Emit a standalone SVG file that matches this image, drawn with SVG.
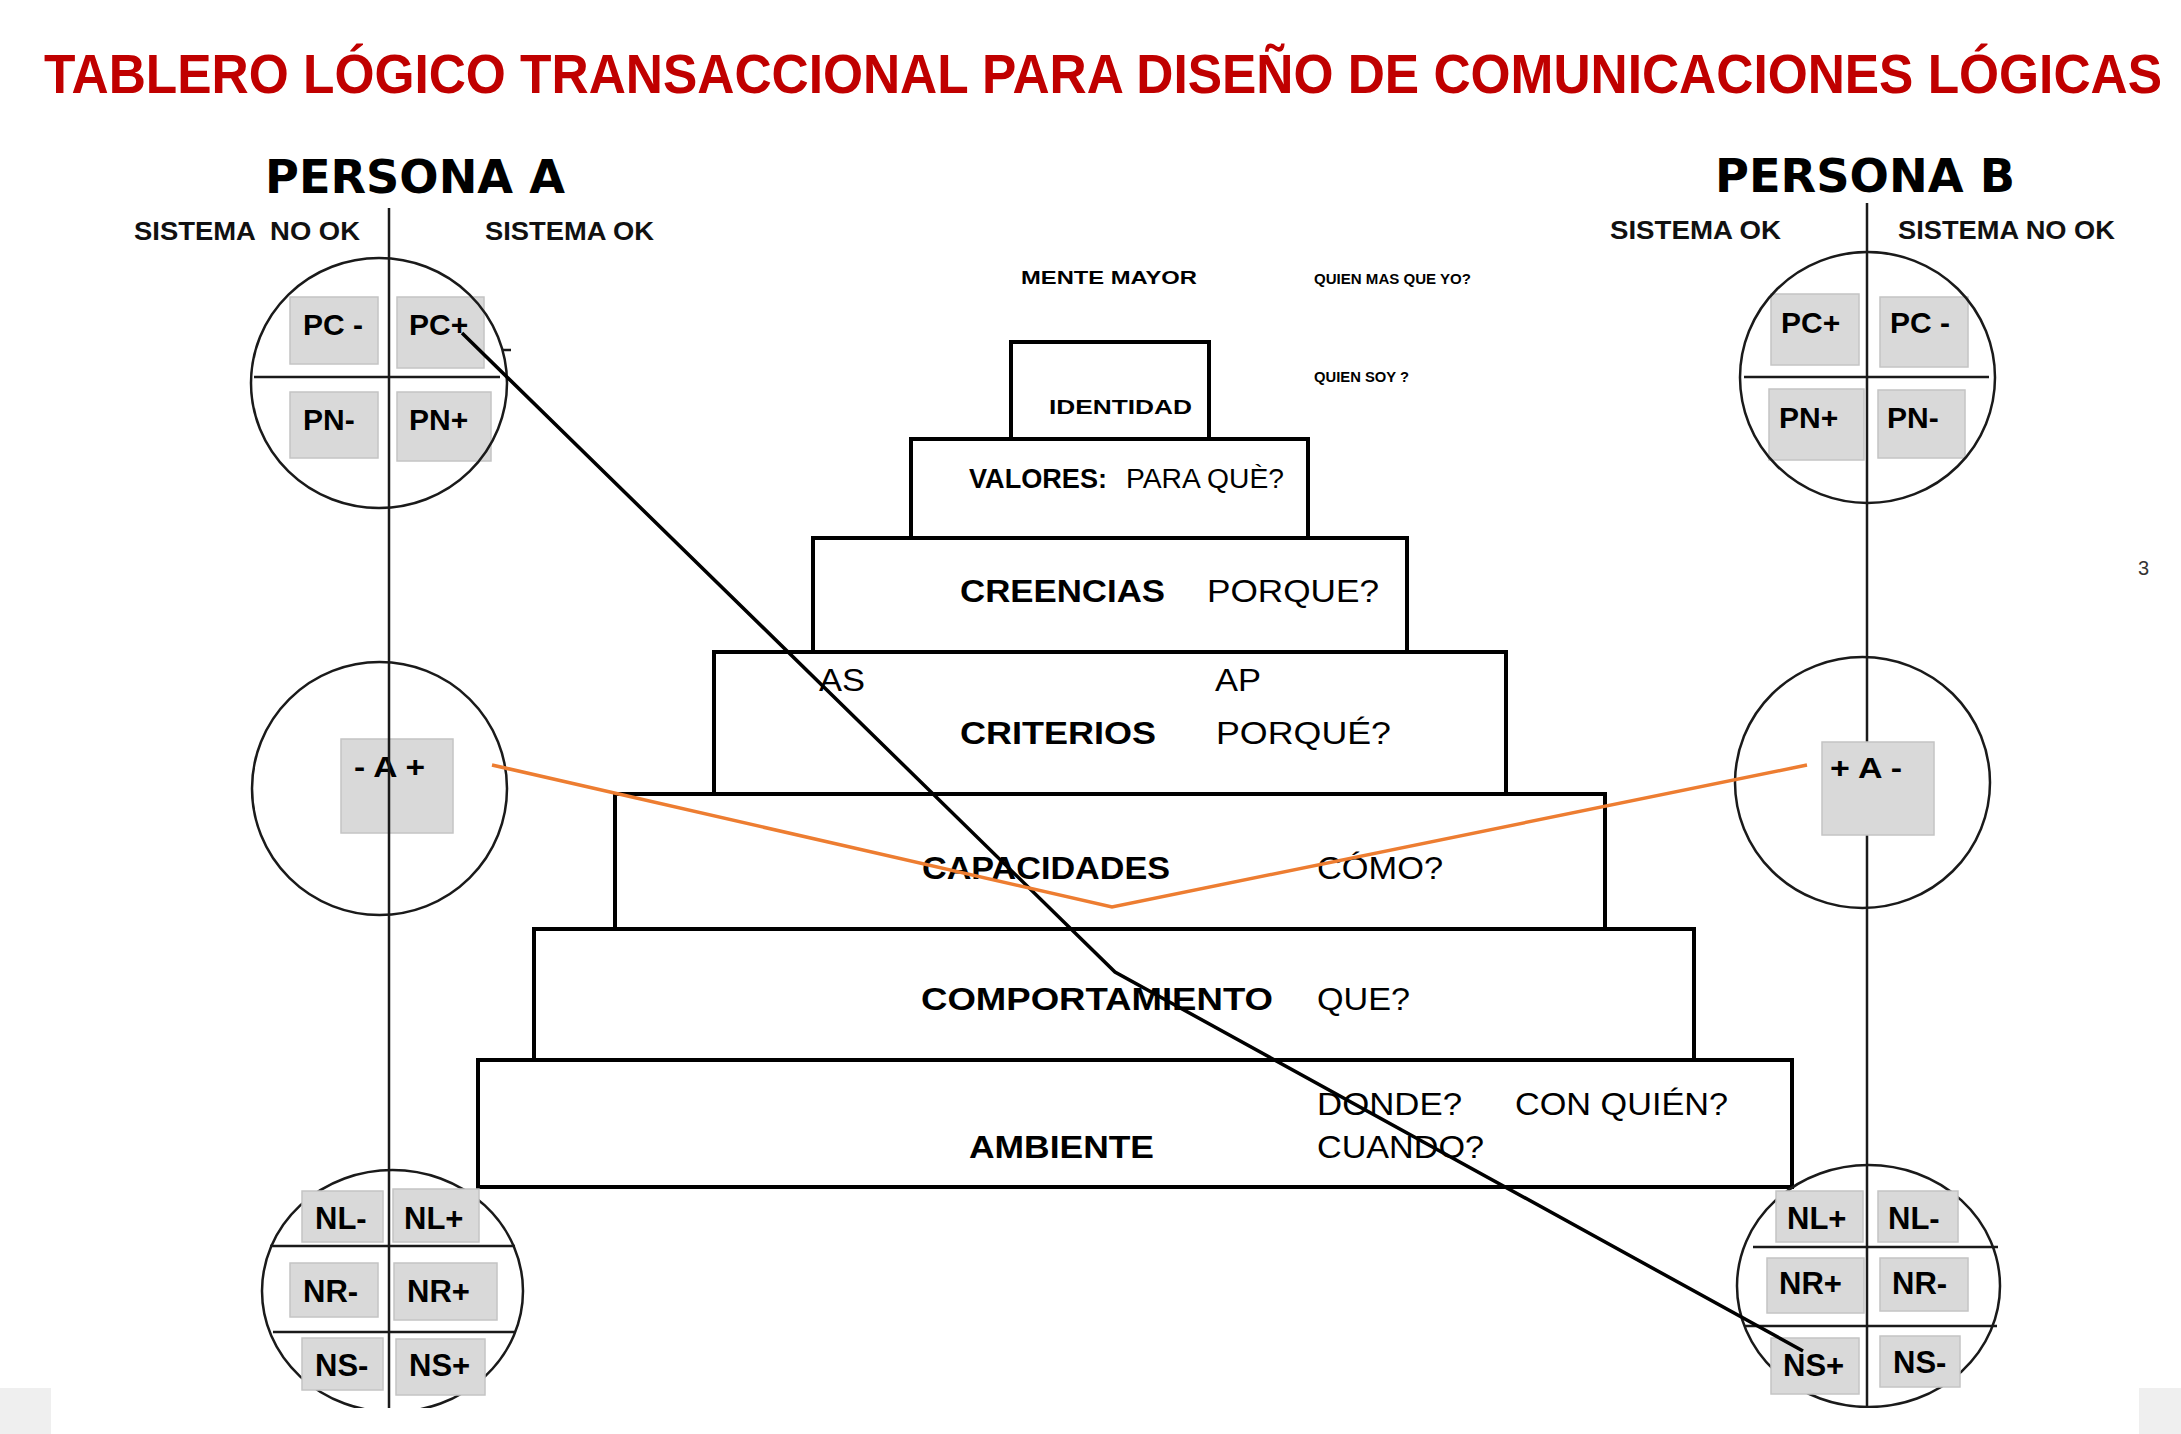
<svg xmlns="http://www.w3.org/2000/svg" width="2181" height="1434" viewBox="0 0 2181 1434">
<style>
.title{font-family:"Liberation Sans",Arial,sans-serif;font-weight:bold;font-size:49px;fill:#C00000}
.persona{font-family:"DejaVu Sans",Verdana,sans-serif;font-weight:bold;font-size:46px;fill:#000}
.sis{font-family:"Liberation Sans",Arial,sans-serif;font-weight:bold;font-size:26px;fill:#111}
.lbl{font-family:"Liberation Sans",Arial,sans-serif;font-weight:bold;font-size:30px;fill:#000}
.lblb{font-family:"Liberation Sans",Arial,sans-serif;font-weight:bold;font-size:31px;fill:#000}
.box{fill:#D9D9D9;stroke:#C4C4C4;stroke-width:1.5}
.ring{fill:none;stroke:#1a1a1a;stroke-width:2.5}
.axis{stroke:#1a1a1a;stroke-width:2.5;fill:none}
.lvl{fill:#fff;stroke:#000;stroke-width:4}
.pb{font-family:"Liberation Sans",Arial,sans-serif;font-weight:bold;font-size:32px;fill:#000}
.pr{font-family:"Liberation Sans",Arial,sans-serif;font-size:32px;fill:#000}
.small{font-family:"Liberation Sans",Arial,sans-serif;font-weight:bold;fill:#000}
</style>
<defs>
<clipPath id="clip"><rect x="0" y="0" width="2181" height="1408"/></clipPath>
</defs>
<rect x="0" y="0" width="2181" height="1434" fill="#fff"/>
<text class="title" transform="matrix(1 0 0 1.13 0 0)" x="44" y="82.3" textLength="2118" lengthAdjust="spacingAndGlyphs">TABLERO LÓGICO TRANSACCIONAL PARA DISEÑO DE COMUNICACIONES LÓGICAS</text>

<g id="pyramid">
<g id="ambiente"><rect class="lvl" x="478" y="1060" width="1314" height="127"/>
<text class="pb" x="969" y="1158" textLength="185" lengthAdjust="spacingAndGlyphs">AMBIENTE</text>
<text class="pr" x="1317" y="1115" textLength="145" lengthAdjust="spacingAndGlyphs">DONDE?</text>
<text class="pr" x="1515" y="1115" textLength="213" lengthAdjust="spacingAndGlyphs">CON QUIÉN?</text>
<text class="pr" x="1317" y="1158" textLength="167" lengthAdjust="spacingAndGlyphs">CUANDO?</text></g>
<g id="comportamiento"><rect class="lvl" x="534" y="929" width="1160" height="131"/>
<text class="pb" x="921" y="1010" textLength="352" lengthAdjust="spacingAndGlyphs">COMPORTAMIENTO</text>
<text class="pr" x="1317" y="1010" textLength="93" lengthAdjust="spacingAndGlyphs">QUE?</text></g>
<g id="capacidades"><rect class="lvl" x="615" y="794" width="990" height="135"/>
<text class="pb" x="922" y="879" textLength="248" lengthAdjust="spacingAndGlyphs">CAPACIDADES</text>
<text class="pr" x="1317" y="879" textLength="126" lengthAdjust="spacingAndGlyphs">CÓMO?</text></g>
<g id="criterios"><rect class="lvl" x="714" y="652" width="792" height="142"/>
<text class="pr" x="819" y="691" textLength="46" lengthAdjust="spacingAndGlyphs">AS</text>
<text class="pr" x="1215" y="691" textLength="46" lengthAdjust="spacingAndGlyphs">AP</text>
<text class="pb" x="960" y="744" textLength="196" lengthAdjust="spacingAndGlyphs">CRITERIOS</text>
<text class="pr" x="1216" y="744" textLength="175" lengthAdjust="spacingAndGlyphs">PORQUÉ?</text></g>
<g id="creencias"><rect class="lvl" x="813" y="538" width="594" height="114"/>
<text class="pb" x="960" y="602" textLength="205" lengthAdjust="spacingAndGlyphs">CREENCIAS</text>
<text class="pr" x="1207" y="602" textLength="172" lengthAdjust="spacingAndGlyphs">PORQUE?</text></g>
<g id="valores"><rect class="lvl" x="911" y="439" width="397" height="99"/>
<text class="pb" x="969" y="488" style="font-size:27px" textLength="138" lengthAdjust="spacingAndGlyphs">VALORES:</text>
<text class="pr" x="1126" y="488" style="font-size:27px" textLength="158" lengthAdjust="spacingAndGlyphs">PARA QUÈ?</text></g>
<g id="identidad"><rect class="lvl" x="1011" y="342" width="198" height="97"/>
<text class="pb" x="1049" y="414" style="font-size:21px" textLength="143" lengthAdjust="spacingAndGlyphs">IDENTIDAD</text></g>
<g id="mente-mayor">
<text class="small" x="1021" y="284" style="font-size:18px" textLength="176" lengthAdjust="spacingAndGlyphs">MENTE MAYOR</text>
<text class="small" x="1314" y="284" style="font-size:14px" textLength="157" lengthAdjust="spacingAndGlyphs">QUIEN MAS QUE YO?</text>
<text class="small" x="1314" y="382" style="font-size:14px" textLength="95" lengthAdjust="spacingAndGlyphs">QUIEN SOY ?</text>
</g>
</g>

<g id="persona-a" clip-path="url(#clip)">
<text class="persona" x="265" y="193" textLength="300" lengthAdjust="spacingAndGlyphs">PERSONA A</text>
<text class="sis" x="134" y="240" textLength="226" lengthAdjust="spacingAndGlyphs" xml:space="preserve">SISTEMA  NO OK</text>
<text class="sis" x="485" y="240" textLength="169" lengthAdjust="spacingAndGlyphs">SISTEMA OK</text>
<g id="a-pc">
<rect class="box" x="290" y="297" width="88" height="67"/>
<rect class="box" x="397" y="297" width="87" height="71"/>
<rect class="box" x="290" y="392" width="88" height="66"/>
<rect class="box" x="397" y="392" width="94" height="69"/>
<ellipse class="ring" cx="379" cy="383" rx="128" ry="125"/>
<line class="axis" x1="254" y1="377" x2="500" y2="377"/>
<line class="axis" x1="502" y1="350" x2="511" y2="350"/>
<text class="lbl" x="303" y="335">PC -</text>
<text class="lbl" x="409" y="335">PC+</text>
<text class="lbl" x="303" y="430">PN-</text>
<text class="lbl" x="409" y="430">PN+</text>
</g>
<g id="a-gate">
<ellipse class="ring" cx="379.5" cy="788.5" rx="127.5" ry="126.5"/>
<rect class="box" x="341" y="739" width="112" height="94"/>
<text class="lbl" x="354" y="777" textLength="71" lengthAdjust="spacingAndGlyphs">- A +</text>
</g>
<g id="a-n">
<ellipse class="ring" cx="392.5" cy="1291" rx="130.5" ry="121"/>
<line class="axis" x1="270" y1="1246" x2="515" y2="1246"/>
<line class="axis" x1="273" y1="1332" x2="515" y2="1332"/>
<rect class="box" x="302" y="1191" width="81" height="51"/>
<rect class="box" x="393" y="1189" width="86" height="53"/>
<rect class="box" x="290" y="1263" width="88" height="54"/>
<rect class="box" x="394" y="1263" width="103" height="57"/>
<rect class="box" x="302" y="1338" width="81" height="52"/>
<rect class="box" x="396" y="1339" width="89" height="56"/>
<text class="lblb" x="315" y="1229">NL-</text>
<text class="lblb" x="404" y="1229">NL+</text>
<text class="lblb" x="303" y="1302">NR-</text>
<text class="lblb" x="407" y="1302">NR+</text>
<text class="lblb" x="315" y="1376">NS-</text>
<text class="lblb" x="409" y="1376">NS+</text>
</g>
<line class="axis" x1="389" y1="208" x2="389" y2="1408"/>
</g>

<g id="persona-b" clip-path="url(#clip)">
<text class="persona" x="1715" y="192" textLength="300" lengthAdjust="spacingAndGlyphs">PERSONA B</text>
<text class="sis" x="1610" y="239" textLength="171" lengthAdjust="spacingAndGlyphs">SISTEMA OK</text>
<text class="sis" x="1898" y="239" textLength="217" lengthAdjust="spacingAndGlyphs">SISTEMA NO OK</text>
<line class="axis" x1="1867" y1="203" x2="1867" y2="1408"/>
<g id="b-pc">
<rect class="box" x="1771" y="294" width="88" height="71"/>
<rect class="box" x="1880" y="297" width="88" height="70"/>
<rect class="box" x="1769" y="389" width="95" height="71"/>
<rect class="box" x="1878" y="390" width="87" height="68"/>
<ellipse class="ring" cx="1867.5" cy="377.5" rx="127.5" ry="125.5"/>
<line class="axis" x1="1744" y1="377" x2="1989" y2="377"/>
<text class="lbl" x="1781" y="333">PC+</text>
<text class="lbl" x="1890" y="333">PC -</text>
<text class="lbl" x="1779" y="428">PN+</text>
<text class="lbl" x="1887" y="428">PN-</text>
</g>
<g id="b-gate">
<ellipse class="ring" cx="1862.5" cy="782.5" rx="127.5" ry="125.5"/>
<rect class="box" x="1822" y="742" width="112" height="93"/>
<text class="lbl" x="1830" y="778" textLength="72" lengthAdjust="spacingAndGlyphs">+ A -</text>
</g>
<g id="b-n">
<ellipse class="ring" cx="1868.5" cy="1286" rx="131.5" ry="121"/>
<line class="axis" x1="1753" y1="1247" x2="1998" y2="1247"/>
<line class="axis" x1="1745" y1="1326" x2="1997" y2="1326"/>
<rect class="box" x="1776" y="1191" width="87" height="51"/>
<rect class="box" x="1878" y="1191" width="80" height="51"/>
<rect class="box" x="1767" y="1258" width="97" height="55"/>
<rect class="box" x="1880" y="1258" width="88" height="53"/>
<rect class="box" x="1771" y="1338" width="88" height="56"/>
<rect class="box" x="1880" y="1336" width="80" height="51"/>
<text class="lblb" x="1787" y="1229">NL+</text>
<text class="lblb" x="1888" y="1229">NL-</text>
<text class="lblb" x="1779" y="1294">NR+</text>
<text class="lblb" x="1892" y="1294">NR-</text>
<text class="lblb" x="1783" y="1376">NS+</text>
<text class="lblb" x="1893" y="1373">NS-</text>
</g>
</g>

<g id="connectors" fill="none" stroke-linejoin="miter">
<polyline points="462,333 1115,972 1803,1351" stroke="#000" stroke-width="3.5"/>
<polyline points="492,765 1112,907 1807,765" stroke="#ED7D31" stroke-width="3.5"/>
</g>

<text x="2138" y="575" style="font-family:'Liberation Sans',Arial,sans-serif;font-size:20px;fill:#333">3</text>
<rect x="0" y="1388" width="51" height="46" fill="#efefef"/>
<rect x="2139" y="1388" width="42" height="46" fill="#efefef"/>
</svg>
